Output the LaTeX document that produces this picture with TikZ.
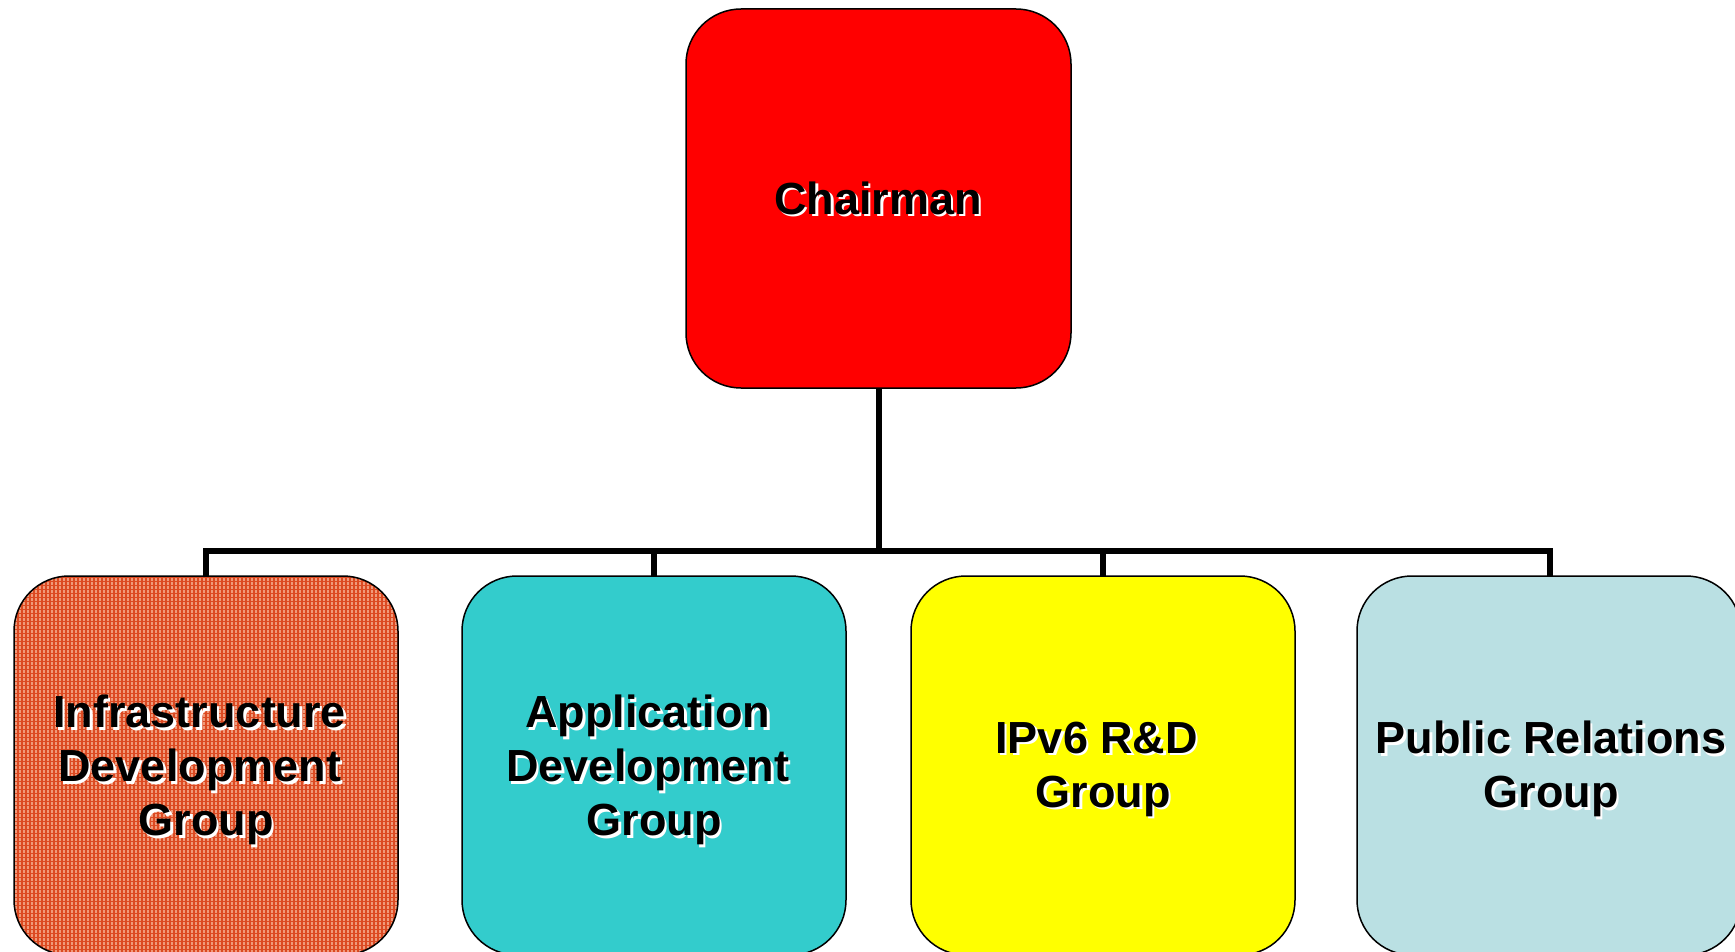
\documentclass[tikz,border=0pt]{standalone}
\usepackage{fontspec}
\setmainfont{Liberation Sans}
% a kept word space at the end of a centred line
\newcommand{\trailsp}{\kern0.278em}
\begin{document}
\begin{tikzpicture}[x=1pt,y=-1pt,
  unitbox/.style={draw=black, line width=1.5pt, rounded corners=55pt,
    minimum width=384pt, minimum height=379pt, inner sep=0pt},
  txt/.style={font=\bfseries\fontsize{45}{54}\selectfont, align=center, text=black, inner sep=0pt},
  txtshadow/.style={txt, text=white},
  link/.style={line width=6pt, line join=miter, draw=black},
  gridfill/.style={fill=infrabase, path picture={
    \draw[infraline, line width=1.5pt, step=4pt]
      ([xshift=-2pt,yshift=-2pt]path picture bounding box.south west) grid
      ([xshift=2pt,yshift=2pt]path picture bounding box.north east);}}]
\definecolor{infrabase}{HTML}{F09A7A}
\definecolor{infraline}{HTML}{DC4A22}
\definecolor{appfill}{HTML}{33CCCC}
\definecolor{prfill}{HTML}{BAE0E3}
\definecolor{ipv6fill}{HTML}{FFFF00}
\useasboundingbox (0,0) rectangle (1735,952);
\clip (0,0) rectangle (1735,952);

% connectors (drawn first, boxes sit on top)
\coordinate (bus) at (878.5,551);
\coordinate (chairfoot) at (878.5,388);
\coordinate (infratop) at (206,576);
\coordinate (apptop) at (654,576);
\coordinate (ipv6top) at (1103,576);
\coordinate (prtop) at (1550,576);
\draw[link] (chairfoot) -- (bus);
\draw[link] (infratop) -- (infratop |- bus) -- (prtop |- bus) -- (prtop);
\draw[link] (apptop) -- (apptop |- bus);
\draw[link] (ipv6top) -- (ipv6top |- bus);

% boxes
\node[unitbox, fill=red, minimum width=385pt] (chair) at (878.5,198.5) {};
\node[unitbox, gridfill] (infra) at (206,765.5) {};
\node[unitbox, fill=appfill] (app) at (654,765.5) {};
\node[unitbox, fill=ipv6fill] (ipv6) at (1103,765.5) {};
\node[unitbox, fill=prfill] (pr) at (1549,765.5) {};

% labels with a white drop shadow
\foreach \n/\t/\px/\py in {chair/Chairman/878/198,
    infra/{Infrastructure\trailsp\\Development\trailsp\\Group}/206/770,
    app/{Application\trailsp\\Development\trailsp\\Group}/654/770,
    ipv6/{IPv6 R\&D\trailsp\\Group}/1103/769,
    pr/{Public Relations\\Group}/1551/769} {
  \node[txtshadow] at (\px+2.5,\py+2.5) {\t};
  \node[txt] (\n-label) at (\px,\py) {\t};
}
\end{tikzpicture}
\end{document}
